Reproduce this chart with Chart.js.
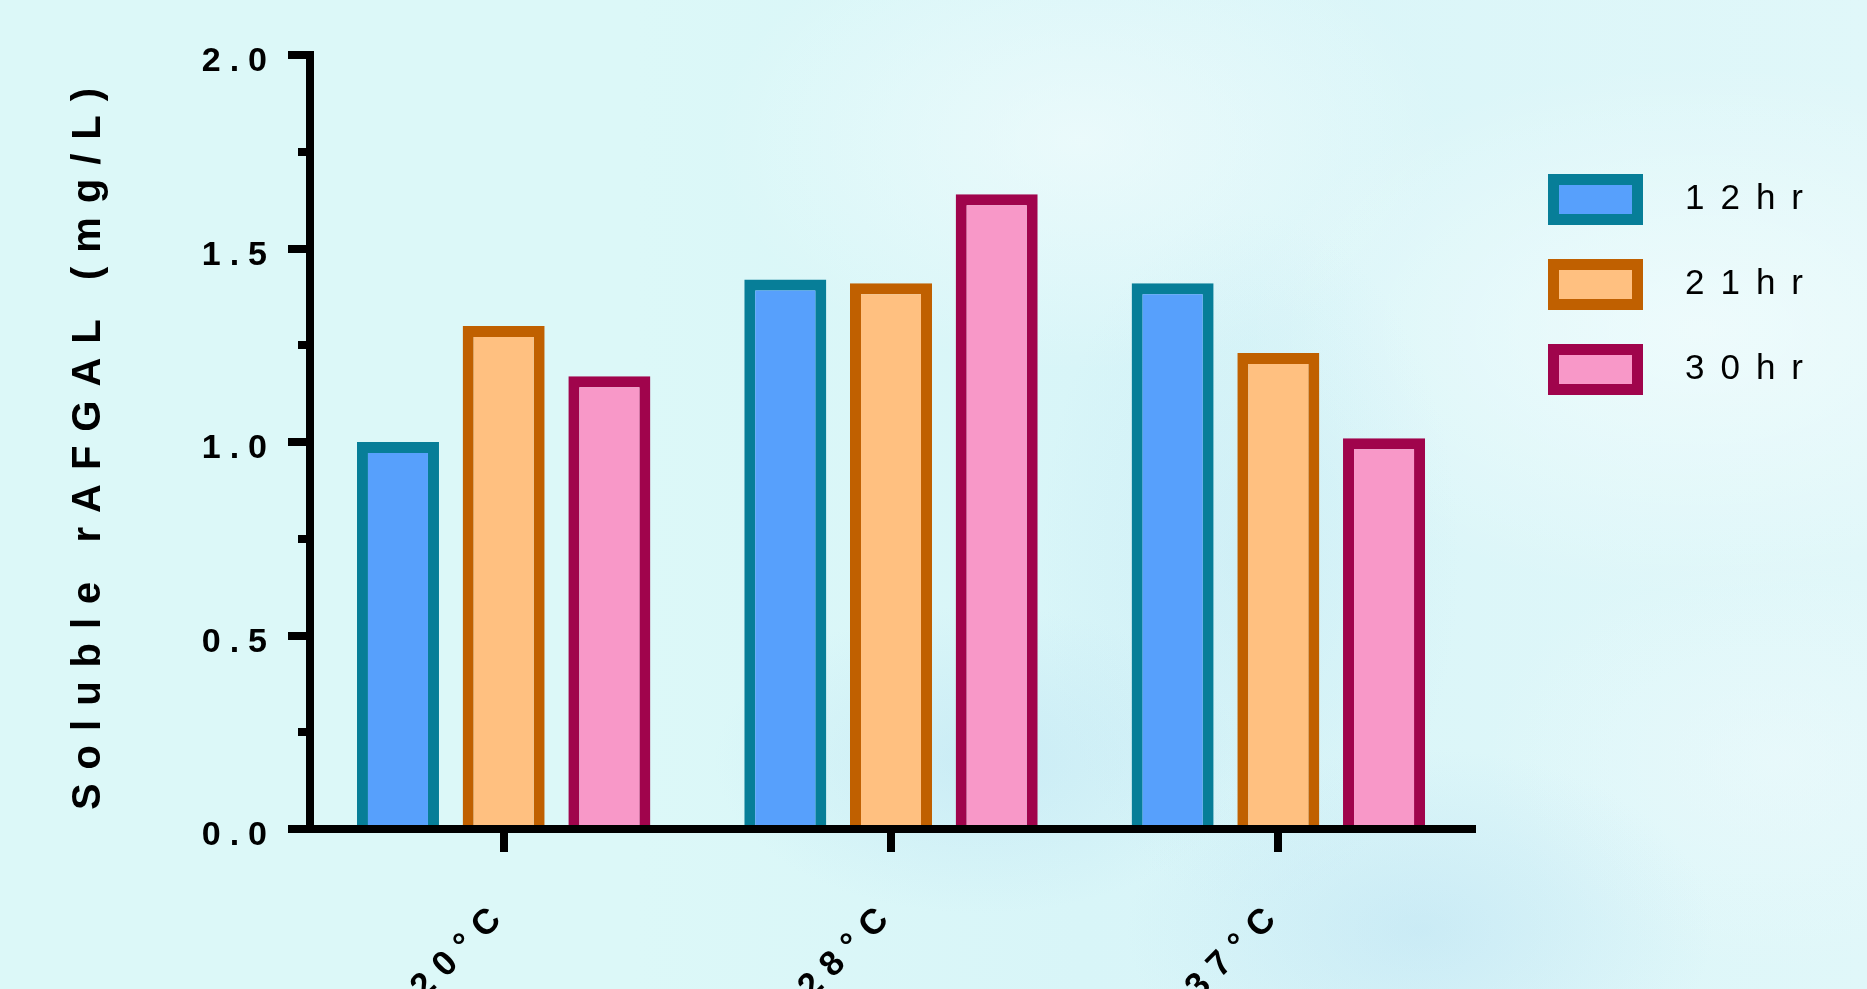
<!DOCTYPE html>
<html>
<head>
<meta charset="utf-8">
<script src="https://cdn.jsdelivr.net/npm/chart.js@4.4.1/dist/chart.umd.min.js"></script>
<style>
html, body { margin: 0; padding: 0; width: 1867px; height: 989px; overflow: hidden; }
body {
  background:
    radial-gradient(ellipse 420px 260px at 1420px 930px, rgba(170,215,240,0.35), rgba(170,215,240,0) 70%),
    radial-gradient(ellipse 380px 220px at 980px 760px, rgba(175,218,240,0.35), rgba(175,218,240,0) 70%),
    radial-gradient(ellipse 300px 500px at 1250px 560px, rgba(185,225,242,0.30), rgba(185,225,242,0) 70%),
    radial-gradient(ellipse 650px 380px at 1700px 330px, rgba(250,255,255,0.55), rgba(250,255,255,0) 70%),
    radial-gradient(ellipse 520px 330px at 1080px 140px, rgba(246,253,253,0.60), rgba(246,253,253,0) 70%),
    radial-gradient(ellipse 420px 300px at 1780px 760px, rgba(238,250,252,0.55), rgba(238,250,252,0) 70%),
    linear-gradient(90deg, #dcf8f8 0%, #dcf8f8 34%, #d8f5f8 58%, #e0f7f9 100%);
}
#wrap { position: absolute; left: 0; top: 0; width: 1867px; height: 989px; }
</style>
</head>
<body>
<div id="wrap"><canvas id="c"></canvas></div>
<script>
// ---- data ----
const categories = ['20°C', '28°C', '37°C'];
const seriesNames = ['12hr', '21hr', '30hr'];
const values12hr = [1.00, 1.42, 1.41];
const values21hr = [1.30, 1.41, 1.23];
const values30hr = [1.17, 1.64, 1.01];
const yTickLabels = ['0.0', '0.5', '1.0', '1.5', '2.0'];
const yAxisTitle = 'Soluble rAFGAL (mg/L)';

// ---- styles ----
const fills = ['#57a0fc', '#ffc080', '#f898c8'];
const borders = ['#077e98', '#c06000', '#a0044c'];

Chart.defaults.font.family = '"Liberation Sans", Arial, Helvetica, sans-serif';
Chart.defaults.color = '#000';

function withSpacing(obj, method, px) {
  if (!obj || obj['_ls_' + method]) return;
  const orig = obj[method];
  obj['_ls_' + method] = true;
  obj[method] = function (...args) {
    const ctx = this.ctx;
    const prev = ctx.letterSpacing;
    ctx.letterSpacing = px + 'px';
    try { return orig.apply(this, args); } finally { ctx.letterSpacing = prev; }
  };
}

const tweaks = {
  id: 'tweaks',
  afterLayout(chart) {
    const lg = chart.legend;
    if (lg) {
      lg.left = 1508.5;
      lg.right = 1819;
      lg.width = lg.right - lg.left;
      lg.top = 134.5;
    }
  },
  beforeDraw(chart) {
    withSpacing(chart.scales.y, 'drawLabels', 9);
    withSpacing(chart.scales.y, 'drawTitle', 14);
    withSpacing(chart.scales.x, 'drawLabels', 11);
    withSpacing(chart.legend, 'draw', 16);
  }
};

const valueSets = [values12hr, values21hr, values30hr];
const datasets = seriesNames.map((name, i) => ({
  label: name,
  data: valueSets[i],
  backgroundColor: fills[i],
  borderColor: borders[i],
  borderWidth: 11,
  categoryPercentage: 0.8187,
  barPercentage: 0.776
}));

new Chart(document.getElementById('c'), {
  type: 'bar',
  data: { labels: categories, datasets },
  plugins: [tweaks],
  options: {
    responsive: true,
    maintainAspectRatio: false,
    animation: false,
    devicePixelRatio: 1,
    layout: { padding: { top: 55, right: 195, bottom: 0, left: 0 } },
    plugins: {
      tooltip: { enabled: false },
      legend: {
        position: 'right',
        align: 'start',
        maxWidth: 200,
        labels: {
          boxWidth: 84,
          boxHeight: 40,
          padding: 45,
          textAlign: 'right',
          color: '#000',
          font: { size: 35, weight: 'normal' }
        }
      }
    },
    scales: {
      x: {
        offset: true,
        afterFit: (s) => { s.height = 160; },
        grid: {
          offset: false,
          drawOnChartArea: false,
          drawTicks: true,
          tickLength: 23,
          lineWidth: 8,
          tickWidth: 8,
          color: '#000',
          tickColor: '#000'
        },
        border: { display: true, width: 8, color: '#000', z: 1 },
        ticks: {
          autoSkip: false,
          minRotation: 45,
          maxRotation: 45,
          padding: 40,
          color: '#000',
          font: { size: 35, weight: 'bold' }
        }
      },
      y: {
        min: 0,
        max: 2,
        afterFit: (s) => { s.width = 310; },
        grid: {
          drawOnChartArea: false,
          drawTicks: true,
          tickLength: 22,
          lineWidth: 8,
          tickWidth: 8,
          color: '#000',
          tickColor: '#000',
          tickBorderDash: (ctx) => {
            const v = ctx.tick ? ctx.tick.value : 0;
            return Math.abs(v * 2 - Math.round(v * 2)) > 1e-6 ? [0, 10, 40] : [];
          }
        },
        border: { display: true, width: 8, color: '#000', z: 1 },
        ticks: {
          stepSize: 0.25,
          autoSkip: false,
          padding: 12,
          labelOffset: 7,
          color: '#000',
          font: { size: 34, weight: 'bold' },
          callback: (value, index) => (index % 2 === 0 ? yTickLabels[index / 2] : '')
        },
        title: {
          display: true,
          text: yAxisTitle,
          color: '#000',
          font: { size: 40, weight: 'bold' },
          padding: { top: 65, bottom: 0 }
        }
      }
    }
  }
});
</script>
</body>
</html>
